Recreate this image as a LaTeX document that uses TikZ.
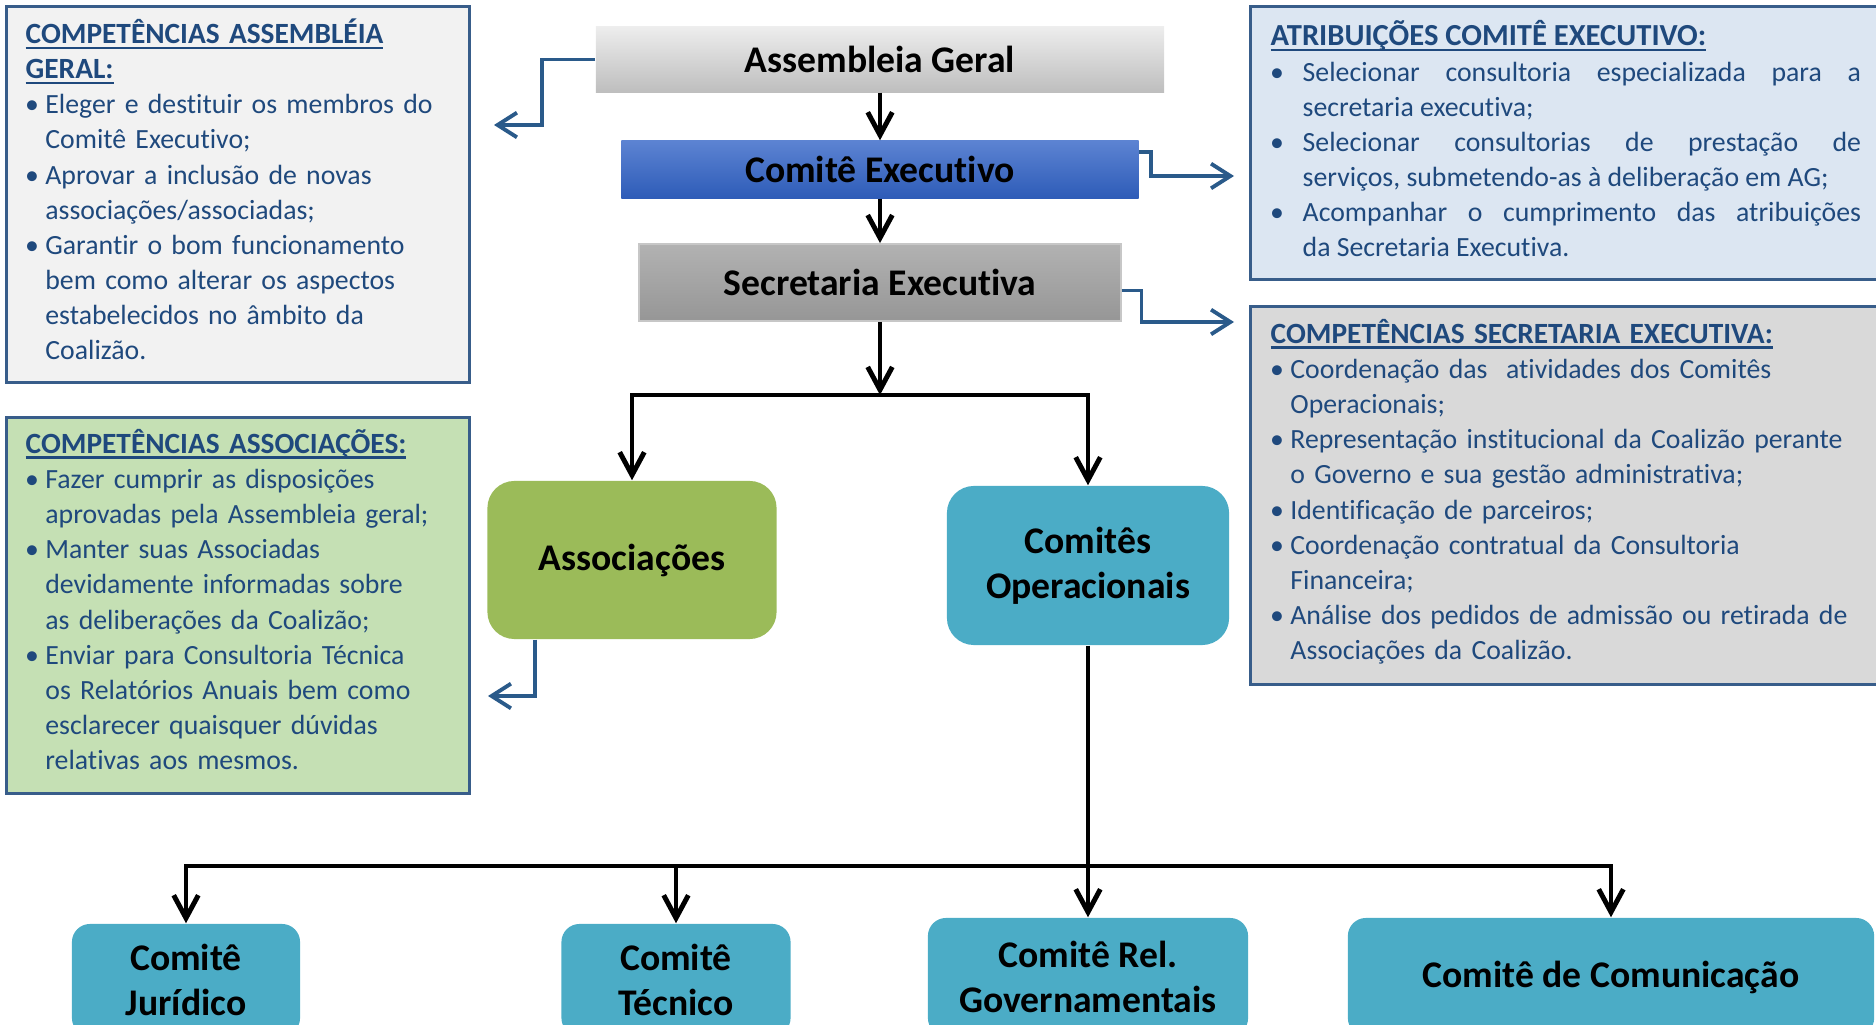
\documentclass[tikz,border=0pt]{standalone}
\usepackage{fontspec}
\usepackage{tikz}
\usetikzlibrary{arrows.meta}
\setmainfont{Carlito}[Ligatures=NoCommon]
\definecolor{infoblue}{RGB}{31,73,125}
\definecolor{frameblue}{RGB}{56,93,138}
\definecolor{linkblue}{RGB}{42,90,138}
\definecolor{agtop}{RGB}{237,237,237}
\definecolor{agbottom}{RGB}{190,190,190}
\definecolor{cetop}{RGB}{92,131,210}
\definecolor{cebottom}{RGB}{46,92,184}
\definecolor{setop}{RGB}{178,178,178}
\definecolor{sebottom}{RGB}{150,150,150}
\definecolor{assocgreen}{RGB}{155,187,89}
\definecolor{comteal}{RGB}{75,172,198}
\definecolor{greyfill}{RGB}{242,242,242}
\definecolor{bluefill}{RGB}{220,230,242}
\definecolor{darkfill}{RGB}{217,217,217}
\definecolor{greenfill}{RGB}{197,224,180}
\newcommand{\orgfont}{\fontsize{10.7}{12.8}\selectfont\bfseries}
\newcommand{\infofont}{\fontsize{7.9}{10}\selectfont\hyphenpenalty=10000\exhyphenpenalty=10000}
\newsavebox{\titlebox}
\newcommand{\boxtitle}[2][8.35]{\sbox{\titlebox}{\fontsize{#1}{10}\selectfont\textbf{#2}}%
  \strut\rlap{\rule[-1.5pt]{\wd\titlebox}{0.6pt}}\usebox{\titlebox}}
\newcommand{\itm}[2][5.6pt]{\par\noindent\hangindent=#1\hangafter=1%
  \makebox[#1][l]{\hspace{-0.2pt}\textbullet}#2}
\tikzset{
  orgnode/.style  = {shape=rectangle, align=center, font=\orgfont, inner sep=0pt},
  plainbox/.style = {orgnode, top color=agtop, bottom color=agbottom},
  execbox/.style  = {orgnode, top color=cetop, bottom color=cebottom},
  secbox/.style   = {orgnode, top color=setop, bottom color=sebottom,
                     draw=black!22, line width=0.5pt},
  roundbox/.style = {orgnode, rounded corners=0.27cm, fill=comteal},
  lowbox/.style   = {orgnode, rounded corners=0.18cm, fill=comteal},
  infobox/.style  = {shape=rectangle, draw=frameblue, line width=0.8pt,
                     anchor=north west, inner sep=0pt},
  infotext/.style = {anchor=north west, inner sep=0pt, text=infoblue,
                     font=\infofont, align=left},
  link/.style     = {draw, line width=1.4pt, -{Straight Barb[length=6.5pt,width=7pt]}},
  note/.style     = {draw=linkblue, line width=1.1pt, -{Straight Barb[length=5.5pt,width=7pt]}},
}

\begin{document}
\begin{tikzpicture}
  [
    x = 0.01cm,
    y = -0.01cm,
  ]
  \useasboundingbox (0,0) rectangle (1876,1025);

  % quadros de texto
  \node [infobox, fill=greyfill, minimum width=4.63cm, minimum height=3.76cm] (asmbox) at (5,5) {};
  \node [infobox, fill=greenfill, minimum width=4.63cm, minimum height=3.76cm] (assocbox) at (5,416) {};
  \node [infobox, fill=bluefill, minimum width=6.6cm, minimum height=2.73cm] (cebox) at (1249,5) {};
  \node [infobox, fill=darkfill, minimum width=6.6cm, minimum height=3.78cm] (sebox) at (1249,305) {};

  \node [infotext, text width=4.35cm] (asmtext) at (25,18) {%
    \noindent\boxtitle{COMPETÊNCIAS ASSEMBLÉIA}\newline\boxtitle{GERAL:}
    \itm{Eleger e destituir os membros do\newline Comitê Executivo;}
    \itm{Aprovar a inclusão de novas\newline associações/associadas;}
    \itm{Garantir o bom funcionamento\newline bem como alterar os aspectos\newline
      estabelecidos no âmbito da\newline Coalizão.}\par};
  \node [infotext, text width=4.35cm] (assoctext) at (25,428) {%
    \noindent\boxtitle{COMPETÊNCIAS ASSOCIAÇÕES:}
    \itm{Fazer cumprir as disposições\newline aprovadas pela Assembleia geral;}
    \itm{Manter suas Associadas\newline devidamente informadas sobre\newline
      as deliberações da Coalizão;}
    \itm{Enviar para Consultoria Técnica\newline os Relatórios Anuais bem como\newline
      esclarecer quaisquer dúvidas\newline relativas aos mesmos.}\par};
  \node [infotext, text width=5.9cm, align=justify] (cetext) at (1270,20) {%
    \noindent\boxtitle[8.7]{ATRIBUIÇÕES COMITÊ EXECUTIVO:}
    \itm[9.1pt]{Selecionar consultoria especializada para a\linebreak secretaria executiva;}
    \itm[9.1pt]{Selecionar consultorias de prestação de\linebreak
      serviços, submetendo-as à deliberação em AG;}
    \itm[9.1pt]{Acompanhar o cumprimento das atribuições\linebreak da Secretaria Executiva.}\par};
  \node [infotext, text width=6.3cm] (setext) at (1270,318) {%
    \noindent\boxtitle{COMPETÊNCIAS SECRETARIA EXECUTIVA:}
    \itm{Coordenação das\ \ atividades dos Comitês\newline Operacionais;}
    \itm{Representação institucional da Coalizão perante\newline
      o Governo e sua gestão administrativa;}
    \itm{Identificação de parceiros;}
    \itm{Coordenação contratual da Consultoria\newline Financeira;}
    \itm{Análise dos pedidos de admissão ou retirada de\newline Associações da Coalizão.}\par};

  % organograma
  \node [plainbox, minimum width=5.68cm, minimum height=0.65cm] (ag) at (880,59.5) {Assembleia Geral};
  \node [execbox, minimum width=5.17cm, minimum height=0.57cm] (ce) at (880,169.5) {Comitê Executivo};
  \node [secbox, minimum width=4.81cm, minimum height=0.77cm] (se) at (880,282.5) {Secretaria Executiva};
  \node [roundbox, fill=assocgreen, minimum width=2.89cm, minimum height=1.58cm] (assoc) at (632,560) {Associações};
  \node [roundbox, minimum width=2.82cm, minimum height=1.59cm] (comop) at (1088,565.5) {Comitês\\Operacionais};
  \node [lowbox, minimum width=2.28cm, minimum height=1.12cm] (jur) at (186,980) {Comitê\\Jurídico};
  \node [lowbox, minimum width=2.29cm, minimum height=1.12cm] (tec) at (676,980) {Comitê\\Técnico};
  \node [lowbox, minimum width=3.2cm, minimum height=1.18cm] (rel) at (1088,977) {Comitê Rel.\\Governamentais};
  \node [lowbox, minimum width=5.26cm, minimum height=1.18cm] (com) at (1611,977) {Comitê de Comunicação};

  \coordinate (split) at (880,395);
  \coordinate (hub) at (1088,866);
  \draw [link] (ag) -- (ce);
  \draw [link] (ce) -- (se);
  \draw [link] (se) -- (split);
  \draw [link] (split) -| (assoc.north);
  \draw [link] (split) -| (comop.north);
  \draw [link, -] (comop) -- (hub);
  \draw [link] (hub) -| (jur.north);
  \draw [link] (hub) -| (tec.north);
  \draw [link] (hub) -- (rel.north);
  \draw [link] (hub) -| (com.north);

  \coordinate (agnote) at (494,125);
  \coordinate (cenote) at (1234,176);
  \coordinate (senote) at (1234,322);
  \coordinate (asnote) at (488,696);
  \draw [note] (ag.west) -- ++(-53,0) |- (agnote);
  \draw [note] ([yshift=-0.12cm]ce.north east) -- ++(12,0) |- (cenote);
  \draw [note] ([yshift=-0.08cm]se.east) -- ++(20,0) |- (senote);
  \draw [note] ([xshift=0.48cm]assoc.south west) |- (asnote);
\end{tikzpicture}
\end{document}
